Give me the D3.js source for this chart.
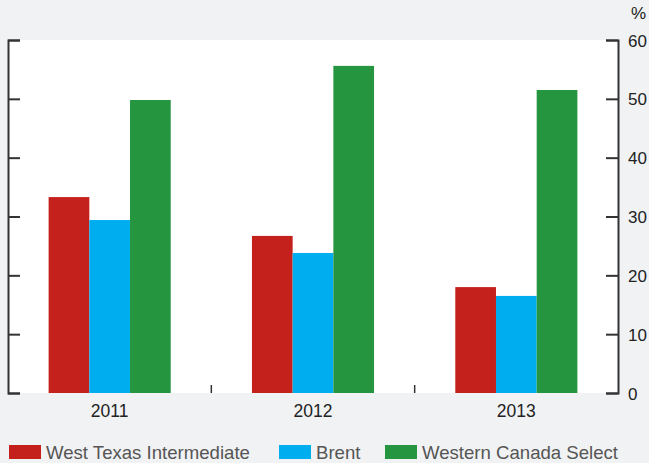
<!DOCTYPE html>
<html><head><meta charset="utf-8">
<script src="https://cdn.jsdelivr.net/npm/d3@7"></script>
<style>
html,body{margin:0;padding:0;background:#f1f2f4;}
svg{display:block;font-family:"Liberation Sans",Arial,Helvetica,sans-serif;}
</style></head>
<body><svg id="c" width="649" height="463"></svg>
<script>
const years = ["2011", "2012", "2013"];
const seriesNames = ["West Texas Intermediate", "Brent", "Western Canada Select"];
const wti = [33.3, 26.7, 18.0];
const brent = [29.4, 23.8, 16.5];
const wcs = [49.8, 55.6, 51.5];
const yTicks = [0, 10, 20, 30, 40, 50, 60];
const colors = ["#c4211c", "#00aeef", "#25963f"];
const series = [wti, brent, wcs];

const svg = d3.select("#c");
const L = 8, R = 618, T = 40, B = 393;
const x = d3.scaleBand().domain(years).range([L, R]).paddingInner(0).paddingOuter(0);
const barW = 40.7, pad = (x.bandwidth() - 3*barW)/2;
const inner = d3.scaleBand().domain(seriesNames).range([pad, pad + 3*barW]);
const y = d3.scaleLinear().domain([0, 60]).range([B, T]);

svg.append("rect").attr("x", L).attr("y", T).attr("width", R-L).attr("height", B-T).attr("fill", "#fff");

years.forEach((yr, i) => {
  series.forEach((s, j) => {
    svg.append("rect")
      .attr("x", x(yr) + inner(seriesNames[j]))
      .attr("y", y(s[i]))
      .attr("width", inner.bandwidth())
      .attr("height", y(0) - y(s[i]))
      .attr("fill", colors[j]);
  });
});

const axCol = "#333";
const la = svg.append("g").attr("transform", `translate(${L},0)`)
  .call(d3.axisRight(y).tickValues(yTicks).tickSize(12).tickFormat(""));
const ra = svg.append("g").attr("transform", `translate(${R},0)`)
  .call(d3.axisLeft(y).tickValues(yTicks).tickSize(12).tickFormat(""));
const ba = svg.append("g").attr("transform", `translate(0,${B})`)
  .call(d3.axisTop(x).tickValues([]).tickSize(0).tickSizeOuter(0));
[la, ra, ba].forEach(g => {
  g.selectAll("path").attr("stroke", axCol).attr("stroke-width", 2);
  g.selectAll("line").attr("stroke", axCol).attr("stroke-width", 2);
});
ba.select("path").attr("d", `M${L},${B}H${R}`);
const seps = [years[1], years[2]].map(d => x(d));
svg.selectAll(".sep").data(seps).enter().append("line")
  .attr("x1", d => d).attr("x2", d => d).attr("y1", B).attr("y2", B-8)
  .attr("stroke", axCol).attr("stroke-width", 1.5);

svg.selectAll(".yl").data(yTicks).enter().append("text")
  .attr("x", 628).attr("y", d => y(d) + 6.5)
  .attr("font-size", 17).attr("fill", "#222").text(d => d);
svg.append("text").attr("x", 631).attr("y", 19).attr("font-size", 17).attr("fill", "#222").text("%");

svg.selectAll(".xl").data(years).enter().append("text")
  .attr("x", d => x(d) + x.bandwidth()/2).attr("y", 417)
  .attr("text-anchor", "middle").attr("font-size", 17.5).attr("fill", "#222").text(d => d);

const legX = [9, 279, 385];
seriesNames.forEach((n, j) => {
  svg.append("rect").attr("x", legX[j]).attr("y", 445).attr("width", 32).attr("height", 14).attr("fill", colors[j]);
  svg.append("text").attr("x", legX[j] + 37).attr("y", 459).attr("font-size", 18.6).attr("fill", "#555").text(n);
});
</script></body></html>
